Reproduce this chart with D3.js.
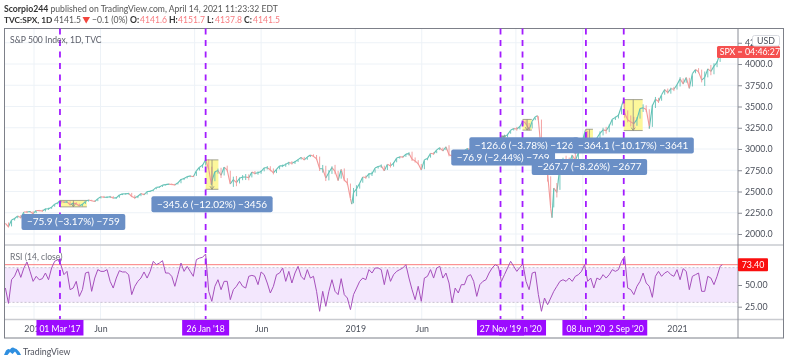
<!DOCTYPE html>
<html>
<head>
<meta charset="utf-8">
<script src="https://cdn.jsdelivr.net/npm/d3@7"></script>
<style>
    html, body { margin: 0; padding: 0; background: #fff; }
    svg { display: block; filter: blur(0.3px); }
    text { font-family: "Lato", sans-serif; }
</style>
</head>
<body>
<div id="chart"></div>
<script>
// friday closes, by year
const close2016 = [2126, 2085, 2164, 2182, 2213, 2192, 2259, 2258, 2264, 2239];
const close2017 = [2277, 2275, 2271, 2295, 2297, 2316, 2351, 2367, 2383, 2373, 2378, 2344, 2363,
    2356, 2329, 2349, 2384, 2399, 2391, 2382, 2416, 2439, 2432, 2433, 2438, 2423,
    2425, 2459, 2472, 2472, 2477, 2441, 2426, 2444, 2476, 2461, 2500, 2502, 2519,
    2549, 2553, 2575, 2581, 2587, 2582, 2578, 2602, 2642, 2652, 2675, 2683, 2674];
const close2018 = [2743, 2786, 2810, 2873, 2762, 2620, 2732, 2747, 2691, 2786, 2752, 2588, 2641,
    2604, 2656, 2670, 2670, 2663, 2728, 2713, 2721, 2735, 2779, 2780, 2755, 2718,
    2760, 2801, 2802, 2819, 2840, 2833, 2850, 2875, 2902, 2872, 2905, 2930, 2914,
    2885, 2767, 2768, 2658, 2723, 2781, 2736, 2632, 2760, 2633, 2600, 2417, 2486];
const close2019 = [2532, 2596, 2671, 2665, 2707, 2708, 2776, 2793, 2804, 2743, 2822, 2801, 2834,
    2893, 2907, 2905, 2940, 2946, 2881, 2860, 2826, 2752, 2873, 2887, 2950, 2942,
    2990, 3014, 2977, 3026, 2932, 2919, 2889, 2847, 2926, 2979, 3007, 2992, 2962,
    2952, 2970, 2986, 3023, 3067, 3093, 3120, 3110, 3141, 3146, 3169, 3221, 3240];
const close2020 = [3235, 3265, 3330, 3295, 3226, 3328, 3380, 3338, 2954, 2972, 2711, 2305, 2541,
    2489, 2790, 2875, 2837, 2831, 2930, 2864, 2955, 3044, 3194, 3041, 3098, 3009,
    3130, 3185, 3225, 3216, 3271, 3351, 3372, 3397, 3508, 3427, 3341, 3319, 3298,
    3348, 3477, 3484, 3465, 3270, 3510, 3585, 3558, 3638, 3699, 3663, 3709, 3703, 3756];
const close2021 = [3825, 3768, 3841, 3714, 3887, 3935, 3907, 3811, 3842, 3943, 3913, 3975, 4020, 4129];

// high to low of each week, in points
const range2016 = [40, 60, 70, 30, 25, 40, 45, 25, 15, 35];
const range2017 = [25, 15, 25, 35, 25, 20, 25, 20, 35, 25, 20, 50, 30,
    30, 30, 30, 25, 20, 15, 20, 25, 20, 25, 20, 25, 30,
    20, 30, 15, 15, 20, 50, 45, 25, 30, 20, 30, 15, 15,
    15, 15, 20, 15, 15, 20, 20, 15, 50, 25, 20, 20, 15];
const range2018 = [50, 35, 40, 70, 120, 200, 110, 60, 120, 100, 70, 150, 120,
    120, 70, 60, 70, 70, 60, 40, 40, 40, 40, 40, 60, 70,
    45, 40, 30, 40, 40, 40, 35, 30, 25, 40, 30, 25, 30,
    60, 170, 90, 180, 120, 90, 110, 120, 90, 150, 80, 170, 180];
const range2019 = [130, 60, 60, 40, 60, 50, 40, 30, 40, 60, 60, 60, 50,
    40, 25, 25, 30, 40, 110, 60, 50, 70, 100, 25, 40, 30,
    30, 30, 40, 30, 130, 110, 90, 80, 60, 50, 30, 40, 50,
    100, 70, 40, 40, 50, 30, 25, 25, 25, 50, 40, 30, 25];
const range2020 = [45, 40, 40, 50, 90, 70, 30, 50, 400, 220, 450, 340, 220,
    170, 240, 130, 130, 130, 90, 120, 90, 90, 150, 190, 110, 130,
    100, 100, 90, 80, 90, 70, 40, 50, 90, 200, 140, 130, 140,
    100, 110, 90, 80, 200, 260, 130, 60, 60, 60, 60, 70, 50, 60];
const range2021 = [110, 70, 50, 120, 130, 40, 60, 150, 170, 100, 120, 130, 70, 100];

// midweek turning points that a friday close misses
const swingDates = ["2017-03-01", "2018-02-08", "2018-12-24", "2020-02-19", "2020-03-23", "2020-06-08", "2020-09-02", "2020-10-30", "2021-04-14"];
const swingCloses = [2396, 2581, 2351, 3392, 2192, 3232, 3581, 3240, 4141];

const rsiValues = [
    46.5, 28.8, 56.1, 60.3, 68.8, 58.8, 69.6, 76.5, 65.7, 54.2,
    60, 56, 57.3, 63.8, 56.1, 69.6, 77.3, 79.2, 73.4, 61.9,
    65.7, 44.6, 46.5, 54.2, 36.9, 44.6, 63.8, 65, 42.7,
    58, 67.7, 65.7, 65.7, 67.7, 54.2, 46.5, 58, 66.5, 65,
    65, 61.9, 38.9, 48.5, 54.2, 58, 65, 58, 65.7, 77.3,
    73.4, 75.3, 78, 63.8, 63.8, 60, 48.5, 61.9, 75.3, 65.7,
    71.5, 65.7, 60, 79.2, 81, 81.9, 85.7, 42.7, 31.2, 48.5,
    56.1, 44.6, 54.2, 54.2, 33.1, 44.6, 48.5, 54.2, 48.5, 46.5,
    60, 61.1, 60, 50.4, 65, 61.9, 52.3, 40.8, 48.5, 61.9,
    63.8, 69.6, 54.2, 65.7, 52.3, 63.8, 71.5, 60, 56.1, 67.7,
    58, 60, 42.7, 19.7, 42.7, 25.4, 42.7, 56.1, 42.7, 38.9,
    57.3, 38.9, 35, 21.6, 38.9, 46.5, 54.2, 58, 56.1, 67.7,
    63.8, 69.6, 69.6, 67.7, 50.4, 67.7, 54.2, 61.9, 65.7, 67.7,
    69.6, 73.4, 58, 44.6, 33.1, 48.5, 31.2, 58, 60, 67.7,
    58, 69.6, 71.5, 58, 63.8, 52.3, 29.3, 46.5, 40.8, 50.4,
    50.4, 60, 61.9, 54.2, 36.9, 50.4, 54.2, 56.1, 63.8,
    69.6, 73.4, 71.5, 54.2, 61.9, 69.6, 77.3, 71.5, 65.7, 70.3, 74.2,
    54.2, 44.6, 63.8, 65, 38.9, 19.7, 35, 27.3, 35, 42.7,
    48.5, 54.2, 56.1, 54.2, 58, 54.2, 60, 61.9, 65.7, 73.4,
    54.2, 58, 46.5, 58, 56.1, 61.9, 58, 61.9, 67.7, 65.7,
    67.7, 77.3, 83, 46.5, 44.6, 38.9, 48.5, 54.2, 63.8, 52.3,
    48.5, 35.8, 60, 65.7, 60, 63.8, 65.7, 61.9, 60, 67.7,
    56.1, 68.8, 65.7, 44.6, 60, 61.9, 63.8, 42.7, 42.7,
    60, 58, 50.4, 60, 71.5, 73.4,
];

const priceTicks = [4250, 4000, 3750, 3500, 3250, 3000, 2750, 2500, 2250, 2000];
const rsiTicks = [50, 25];
const timeTicks = ["2017-01-01", "2017-06-01", "2018-01-01", "2018-06-01", "2019-01-01", "2019-06-01", "2020-01-01", "2020-06-01", "2021-01-01"];
// 2018, 2020 and the last Jun sit under the purple date tags
const timeTickLabels = ["2017", "Jun", "", "Jun", "2019", "Jun", "", "", "2021"];

// vertical markers, in the order they were stacked on the axis
const markerDates = ["2017-03-01", "2018-01-26", "2020-09-02", "2020-06-08", "2020-01-16", "2019-11-27"];
const markerLabels = ["01 Mar '17", "26 Jan '18", "02 Sep '20", "08 Jun '20", "16 Jan '20", "27 Nov '19"];

// drawdown boxes
const boxStart = ["2017-03-01", "2018-01-26", "2020-01-16", "2019-11-27", "2020-06-08", "2020-09-02"];
const boxEnd = ["2017-05-01", "2018-02-24", "2020-02-06", "2019-12-09", "2020-06-24", "2020-10-15"];
const boxTop = [2395, 2872, 3348, 3153, 3232, 3581];
const boxBottom = [2319, 2526, 3222, 3076, 2965, 3217];
const boxText = ["\u221275.9 (\u22123.17%) \u2212759", "\u2212345.6 (\u221212.02%) \u22123456", "\u2212126.6 (\u22123.78%) \u2212126",
    "\u221276.9 (\u22122.44%) \u2212769", "\u2212267.7 (\u22128.26%) \u22122677", "\u2212364.1 (\u221210.17%) \u22123641"];
const labelShift = [0, 0, -3, 0, 0, 0];

const lastPrice = 4141.5;
const lastRsi = 73.40;

const width = 789;
const height = 363;
const frame = { left: 4.5, right: 783.5, top: 28.5, bottom: 338 };
const axisX = 738;
const rsiPane = { top: 246, bottom: 319 };

const parseDate = d3.timeParse("%Y-%m-%d");

const fridays = d3.timeFriday.range(new Date(2016, 9, 28), new Date(2021, 3, 10));
const closes = [...close2016, ...close2017, ...close2018, ...close2019, ...close2020, ...close2021];
const ranges = [...range2016, ...range2017, ...range2018, ...range2019, ...range2020, ...range2021];
const weeks = fridays.map((d, i) => ({ date: d, close: closes[i], range: ranges[i] }));
const pricePoints = weeks
    .concat(swingDates.map((d, i) => ({ date: parseDate(d), close: swingCloses[i] })))
    .sort((a, b) => a.date - b.date);
const rsiPoints = fridays.concat([parseDate("2021-04-14")]).map((d, i) => ({ date: d, value: rsiValues[i] }));

const xScale = d3.scaleTime()
    .domain([parseDate("2017-01-01"), parseDate("2021-01-01")])
    .range([34, 677]);
const yPrice = d3.scaleLinear()
    .domain([2000, 4000])
    .range([234, 64]);
const yRsi = d3.scaleLinear()
    .domain([25, 50])
    .range([306.7, 285]);

const upColor = "#62c1b5";
const downColor = "#f29797";

const svg = d3.select("#chart")
    .append("svg")
    .attr("viewBox", [0, 0, width, height])
    .attr("width", width)
    .attr("height", height);

// grid
const grid = svg.append("g").attr("stroke", "#edf2f7").attr("stroke-width", 1);
grid.selectAll(".v")
    .data(timeTicks)
    .join("line")
        .attr("x1", (d) => xScale(parseDate(d)))
        .attr("x2", (d) => xScale(parseDate(d)))
        .attr("y1", frame.top)
        .attr("y2", rsiPane.bottom);
grid.selectAll(".h")
    .data(priceTicks)
    .join("line")
        .attr("x1", frame.left)
        .attr("x2", axisX)
        .attr("y1", (d) => yPrice(d))
        .attr("y2", (d) => yPrice(d));
grid.selectAll(".r")
    .data(rsiTicks)
    .join("line")
        .attr("x1", frame.left)
        .attr("x2", axisX)
        .attr("y1", (d) => yRsi(d))
        .attr("y2", (d) => yRsi(d));

// rsi band
svg.append("rect")
    .attr("x", frame.left)
    .attr("width", axisX - frame.left)
    .attr("y", yRsi(70))
    .attr("height", yRsi(30) - yRsi(70))
    .attr("fill", "#f3e7fd");
svg.selectAll(".band")
    .data([70, 30])
    .join("line")
        .attr("x1", frame.left)
        .attr("x2", axisX)
        .attr("y1", (d) => yRsi(d))
        .attr("y2", (d) => yRsi(d))
        .attr("stroke", "#bdb6c6")
        .attr("stroke-width", 0.8)
        .attr("stroke-dasharray", "2,2");

// drawdown box fill sits under the price
svg.selectAll(".box")
    .data(boxStart)
    .join("rect")
        .attr("x", (d) => xScale(parseDate(d)))
        .attr("y", (d, i) => yPrice(boxTop[i]))
        .attr("width", (d, i) => xScale(parseDate(boxEnd[i])) - xScale(parseDate(d)))
        .attr("height", (d, i) => yPrice(boxBottom[i]) - yPrice(boxTop[i]))
        .attr("fill", "#fdf79b");

svg.selectAll(".seg")
    .data(d3.pairs(pricePoints))
    .join("line")
        .attr("x1", (d) => xScale(d[0].date))
        .attr("y1", (d) => yPrice(d[0].close))
        .attr("x2", (d) => xScale(d[1].date))
        .attr("y2", (d) => yPrice(d[1].close))
        .attr("stroke", (d) => d[1].close >= d[0].close ? upColor : downColor)
        .attr("stroke-width", 1.1);

// weekly high-low wicks, centred on the week's move
svg.selectAll(".wick")
    .data(d3.pairs(weeks))
    .join("line")
        .attr("x1", (d) => xScale(d[1].date))
        .attr("x2", (d) => xScale(d[1].date))
        .attr("y1", (d) => yPrice((d[0].close + d[1].close) / 2 + d[1].range / 2))
        .attr("y2", (d) => yPrice((d[0].close + d[1].close) / 2 - d[1].range / 2))
        .attr("stroke", (d) => d[1].close >= d[0].close ? upColor : downColor)
        .attr("stroke-width", 0.9);

// box edges and arrow
boxStart.forEach((d, i) => {
    const x0 = xScale(parseDate(d));
    const x1 = xScale(parseDate(boxEnd[i]));
    const xm = (x0 + x1) / 2;
    const y0 = yPrice(boxTop[i]);
    const y1 = yPrice(boxBottom[i]);
    const edges = svg.append("g").attr("stroke", "#8d8d80").attr("stroke-width", 0.8).attr("fill", "none");
    edges.append("path").attr("d", `M${x0},${y0}H${x1}M${x0},${y1}H${x1}`);
    edges.append("path").attr("d", `M${xm},${y0}V${y1}M${xm - 2},${y1 - 3}L${xm},${y1}L${xm + 2},${y1 - 3}`);
});

// rsi
svg.append("line")
    .attr("x1", frame.left)
    .attr("x2", axisX)
    .attr("y1", yRsi(lastRsi))
    .attr("y2", yRsi(lastRsi))
    .attr("stroke", "#fb7b7b")
    .attr("stroke-width", 1);
svg.append("path")
    .datum(rsiPoints)
    .attr("fill", "none")
    .attr("stroke", "#a650bc")
    .attr("stroke-width", 1)
    .attr("d", d3.line()
        .x((d) => xScale(d.date))
        .y((d) => yRsi(d.value)));

// panes and frame
svg.append("g")
    .attr("stroke", "#c9cbd0")
    .attr("stroke-width", 1.5)
    .selectAll("line")
    .data([245, 319.5])
    .join("line")
        .attr("x1", frame.left)
        .attr("x2", frame.right)
        .attr("y1", (d) => d)
        .attr("y2", (d) => d);
svg.append("line")
    .attr("x1", axisX)
    .attr("x2", axisX)
    .attr("y1", frame.top)
    .attr("y2", frame.bottom)
    .attr("stroke", "#8a8d96")
    .attr("stroke-width", 1);
svg.append("rect")
    .attr("x", frame.left)
    .attr("y", frame.top)
    .attr("width", frame.right - frame.left)
    .attr("height", frame.bottom - frame.top)
    .attr("fill", "none")
    .attr("stroke", "#7d8089")
    .attr("stroke-width", 1);

// axes
const styleAxis = (g) => {
    g.select(".domain").remove();
    g.selectAll("line").attr("stroke", "#8a8d96");
    g.selectAll("text").attr("fill", "#4a4f5a").attr("font-size", 8.8);
};
svg.append("g")
    .attr("transform", `translate(${axisX},0)`)
    .call(d3.axisRight(yPrice).tickValues(priceTicks).tickFormat(d3.format(".1f")).tickSize(4).tickPadding(3))
    .call(styleAxis);
svg.append("g")
    .attr("transform", `translate(${axisX},0)`)
    .call(d3.axisRight(yRsi).tickValues(rsiTicks).tickFormat(d3.format(".2f")).tickSize(4).tickPadding(3))
    .call(styleAxis);
svg.append("g")
    .attr("transform", "translate(0,323.5)")
    .call(d3.axisBottom(xScale).tickValues(timeTicks.map(parseDate))
        .tickFormat((d, i) => timeTickLabels[i]).tickSize(0).tickPadding(2))
    .call(styleAxis);

// purple markers
svg.selectAll(".marker")
    .data(markerDates)
    .join("line")
        .attr("x1", (d) => xScale(parseDate(d)))
        .attr("x2", (d) => xScale(parseDate(d)))
        .attr("y1", frame.top)
        .attr("y2", rsiPane.bottom)
        .attr("stroke", "#a31cff")
        .attr("stroke-width", 1.8)
        .attr("stroke-dasharray", "6,5.5");

// drawdown labels
boxStart.forEach((d, i) => {
    const xm = (xScale(parseDate(d)) + xScale(parseDate(boxEnd[i]))) / 2 + labelShift[i];
    const top = yPrice(boxBottom[i]) + 7;
    const label = svg.append("g");
    const rect = label.append("rect")
        .attr("y", top)
        .attr("height", 16)
        .attr("rx", 2)
        .attr("fill", "#6a8fc6");
    const text = label.append("text")
        .attr("x", xm)
        .attr("y", top + 11.5)
        .attr("text-anchor", "middle")
        .attr("fill", "#fff")
        .attr("font-size", 10)
        .text(boxText[i]);
    const w = text.node().getComputedTextLength() + 11;
    rect.attr("x", xm - w / 2).attr("width", w);
});

// date labels on the time axis
markerDates.forEach((d, i) => {
    const xm = xScale(parseDate(d));
    svg.append("rect")
        .attr("x", xm - 23.5)
        .attr("y", 320)
        .attr("width", 47)
        .attr("height", 15.5)
        .attr("fill", "#9c0bff");
    svg.append("text")
        .attr("x", xm)
        .attr("y", 331.5)
        .attr("text-anchor", "middle")
        .attr("fill", "#fff")
        .attr("font-size", 8.6)
        .text(markerLabels[i]);
});

// last value tags
const yLast = yPrice(lastPrice);
svg.append("rect")
    .attr("x", 717)
    .attr("y", yLast - 6)
    .attr("width", 63)
    .attr("height", 12)
    .attr("rx", 1.5)
    .attr("fill", "#f5504f");
svg.append("line")
    .attr("x1", axisX)
    .attr("x2", axisX + 4)
    .attr("y1", yLast)
    .attr("y2", yLast)
    .attr("stroke", "#fff");
svg.append("text")
    .attr("x", 727.5)
    .attr("y", yLast + 3.5)
    .attr("text-anchor", "middle")
    .attr("fill", "#fff")
    .attr("font-size", 8.8)
    .text("SPX");
svg.append("text")
    .attr("x", 745)
    .attr("y", yLast + 3.5)
    .attr("fill", "#fff")
    .attr("font-size", 8.8)
    .text("04:46:27");

svg.append("rect")
    .attr("x", 752.5)
    .attr("y", 35.5)
    .attr("width", 27)
    .attr("height", 10.5)
    .attr("rx", 2)
    .attr("fill", "#fff")
    .attr("stroke", "#d8dae0");
svg.append("text")
    .attr("x", 766)
    .attr("y", 43.5)
    .attr("text-anchor", "middle")
    .attr("fill", "#4a4f5a")
    .attr("font-size", 8.8)
    .text("USD");

svg.append("rect")
    .attr("x", axisX)
    .attr("y", yRsi(lastRsi) - 6.5)
    .attr("width", 30)
    .attr("height", 13)
    .attr("rx", 1)
    .attr("fill", "#fa0f0f");
svg.append("text")
    .attr("x", 753)
    .attr("y", yRsi(lastRsi) + 3.5)
    .attr("text-anchor", "middle")
    .attr("fill", "#fff")
    .attr("font-size", 8.8)
    .text(d3.format(".2f")(lastRsi));

// titles
const addText = (x, y, str, fill, size, weight) => svg.append("text")
    .attr("x", x)
    .attr("y", y)
    .attr("fill", fill)
    .attr("font-size", size)
    .attr("font-weight", weight || 400)
    .text(str);

addText(10, 43, "S&P 500 Index, 1D, TVC", "#5d606b", 8.6);
addText(10, 260, "RSI (14, close)", "#6d7078", 8.6);

addText(4, 11.5, "Scorpio244", "#333", 8.7, 700);
addText(50.5, 11.5, "published on TradingView.com, April 14, 2021 11:23:32 EDT", "#555", 8.6);
addText(4, 22.5, "TVC:SPX, 1D", "#333", 8.3, 700);
addText(54, 22.5, "4141.5", "#555", 8.6);
svg.append("path")
    .attr("d", "M82.5,17H90L86.2,23.5Z")
    .attr("fill", "#f2453d");
addText(92, 22.5, "\u22120.1 (0%)", "#555", 8.6);
addText(130, 22.5, "O:", "#333", 8.6, 700);
addText(140, 22.5, "4141.6", "#f77c80", 8.6);
addText(169, 22.5, "H:", "#333", 8.6, 700);
addText(178, 22.5, "4151.7", "#f77c80", 8.6);
addText(207, 22.5, "L:", "#333", 8.6, 700);
addText(215, 22.5, "4137.8", "#f77c80", 8.6);
addText(244, 22.5, "C:", "#333", 8.6, 700);
addText(253, 22.5, "4141.5", "#f77c80", 8.6);

// logo
svg.append("path")
    .attr("d", "M4,355L6,350.5Q8,348 10,349.5Q12,346 15,348.5Q18,349 21,355H17.5L15,351.5L12.5,354L10,352L7.5,355Z")
    .attr("fill", "#2f8fe0");
addText(23, 354.5, "TradingView", "#50535e", 8.8);
</script>
</body>
</html>
